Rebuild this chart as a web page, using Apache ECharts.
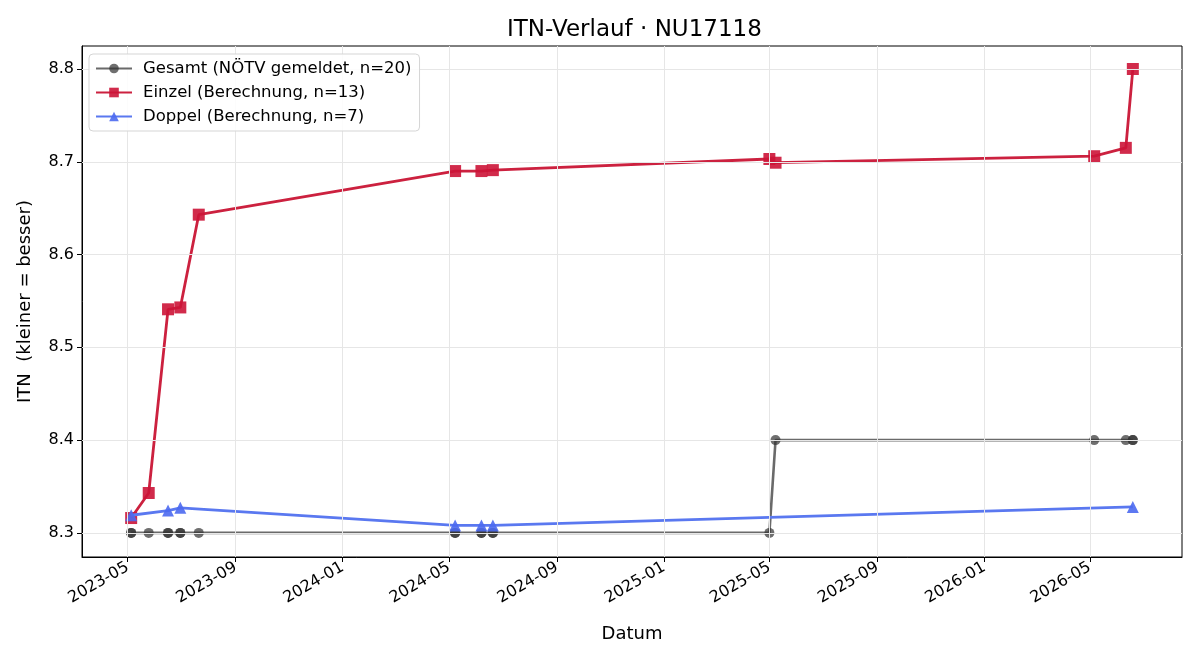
<!DOCTYPE html>
<html lang="de" style="height: 100%">
<head>
  <meta charset="utf-8" />
  <title>ITN-Verlauf</title>
</head>
<body style="height: 100%; margin: 0; background: #fff">
  <div id="container" style="width: 1200px; height: 660px"></div>

  <script src="https://cdn.jsdelivr.net/npm/echarts@6/dist/echarts.min.js"></script>

  <script>
    // Daten
    const gesamtDates = [
      '2023-05-05', '2023-05-05', '2023-05-25', '2023-06-16', '2023-06-16',
      '2023-06-30', '2023-06-30', '2023-07-21', '2024-05-08', '2024-05-08',
      '2024-06-07', '2024-06-07', '2024-06-20', '2024-06-20', '2025-05-01',
      '2025-05-08', '2026-05-06', '2026-06-11', '2026-06-19', '2026-06-19'
    ];
    const gesamtValues = [
      8.3, 8.3, 8.3, 8.3, 8.3, 8.3, 8.3, 8.3, 8.3, 8.3,
      8.3, 8.3, 8.3, 8.3, 8.3, 8.4, 8.4, 8.4, 8.4, 8.4
    ];

    const einzelDates = [
      '2023-05-05', '2023-05-25', '2023-06-16', '2023-06-30', '2023-07-21',
      '2024-05-08', '2024-06-07', '2024-06-20', '2025-05-01', '2025-05-08',
      '2026-05-06', '2026-06-11', '2026-06-19'
    ];
    const einzelValues = [
      8.316, 8.343, 8.541, 8.543, 8.643,
      8.690, 8.690, 8.691, 8.703, 8.699,
      8.706, 8.715, 8.800
    ];

    const doppelDates = [
      '2023-05-05', '2023-06-16', '2023-06-30',
      '2024-05-08', '2024-06-07', '2024-06-20', '2026-06-19'
    ];
    const doppelValues = [8.319, 8.324, 8.327, 8.308, 8.308, 8.308, 8.328];

    const yTicks = [8.3, 8.4, 8.5, 8.6, 8.7, 8.8];
    const xTickLabels = [
      '2023-05', '2023-09', '2024-01', '2024-05', '2024-09',
      '2025-01', '2025-05', '2025-09', '2026-01', '2026-05'
    ];

    function toTime(s) {
      const p = s.split('-').map(Number);
      return Date.UTC(p[0], p[1] - 1, p[2] || 1);
    }
    function zip(dates, values) {
      const out = [];
      for (let i = 0; i < dates.length; i++) {
        out.push([toTime(dates[i]), values[i]]);
      }
      return out;
    }
    function fmtMonth(t) {
      const d = new Date(t);
      const m = d.getUTCMonth() + 1;
      return d.getUTCFullYear() + '-' + (m < 10 ? '0' + m : m);
    }

    const xTicks = xTickLabels.map(toTime);
    const font = 'DejaVu Sans';
    const gridColor = '#e6e6e6';

    // Gitterlinien als markLine
    const gridLines = [];
    for (const t of xTicks) gridLines.push({ xAxis: t });
    for (const v of yTicks) gridLines.push({ yAxis: v });

    var dom = document.getElementById('container');
    var myChart = echarts.init(dom, null, { renderer: 'canvas' });

    var option = {
      animation: false,
      backgroundColor: '#fff',
      textStyle: { fontFamily: font },
      title: {
        text: 'ITN-Verlauf · NU17118',
        left: 502,
        top: 14,
        textStyle: { fontFamily: font, fontSize: 23, fontWeight: 'normal', color: '#000' }
      },
      legend: {
        orient: 'vertical',
        left: 89,
        top: 54,
        z: 20,
        padding: [6, 8, 6, 6],
        itemWidth: 36,
        itemHeight: 12,
        itemGap: 7,
        backgroundColor: 'rgba(255,255,255,0.85)',
        borderColor: '#d5d5d5',
        borderWidth: 1,
        borderRadius: 4,
        textStyle: { fontFamily: font, fontSize: 16.5, color: '#000', padding: [0, 0, 0, 6] },
        data: [
          'Gesamt (NÖTV gemeldet, n=20)',
          'Einzel (Berechnung, n=13)',
          'Doppel (Berechnung, n=7)'
        ]
      },
      grid: {
        left: 82,
        right: 18,
        top: 46,
        bottom: 103,
        show: true,
        borderColor: '#000',
        borderWidth: 1,
        backgroundColor: 'transparent'
      },
      xAxis: {
        type: 'value',
        min: toTime('2023-03-10'),
        max: toTime('2026-08-14'),
        name: 'Datum',
        nameLocation: 'middle',
        nameGap: 68,
        nameTextStyle: { fontFamily: font, fontSize: 18, color: '#000' },
        axisLine: { show: true, lineStyle: { color: '#000', width: 1 } },
        axisTick: { show: true, length: 5, lineStyle: { color: '#000' }, customValues: xTicks },
        splitLine: { show: false },
        axisLabel: {
          customValues: xTicks,
          rotate: 30,
          margin: 9,
          fontFamily: font,
          fontSize: 16,
          color: '#000',
          formatter: fmtMonth
        }
      },
      yAxis: {
        type: 'value',
        min: 8.274,
        max: 8.8248,
        name: 'ITN  (kleiner = besser)',
        nameLocation: 'middle',
        nameGap: 48,
        nameRotate: 90,
        nameTextStyle: { fontFamily: font, fontSize: 18, color: '#000' },
        axisLine: { show: true, lineStyle: { color: '#000', width: 1 } },
        axisTick: { show: true, length: 5, lineStyle: { color: '#000' }, customValues: yTicks },
        splitLine: { show: false },
        axisLabel: {
          customValues: yTicks,
          margin: 8,
          fontFamily: font,
          fontSize: 16,
          color: '#000',
          formatter: function (v) { return v.toFixed(1); }
        }
      },
      series: [
        {
          name: '_grid',
          type: 'line',
          data: [],
          z: 0,
          silent: true,
          markLine: {
            silent: true,
            symbol: 'none',
            label: { show: false },
            lineStyle: { color: gridColor, type: 'solid', width: 1 },
            data: gridLines,
            animation: false
          }
        },
        {
          name: 'Gesamt (NÖTV gemeldet, n=20)',
          type: 'line',
          data: zip(gesamtDates, gesamtValues),
          z: 2,
          symbol: 'circle',
          symbolSize: 10,
          showAllSymbol: true,
          color: '#666666',
          lineStyle: { color: '#6a6a6a', width: 2.6 },
          itemStyle: { color: 'rgba(50,50,50,0.7)' }
        },
        {
          name: 'Einzel (Berechnung, n=13)',
          type: 'line',
          data: zip(einzelDates, einzelValues),
          z: 3,
          symbol: 'rect',
          symbolSize: 12,
          showAllSymbol: true,
          color: '#cc1f3f',
          lineStyle: { color: '#cc213f', width: 2.8 },
          itemStyle: { color: 'rgba(204,20,55,0.9)' }
        },
        {
          name: 'Doppel (Berechnung, n=7)',
          type: 'line',
          data: zip(doppelDates, doppelValues),
          z: 4,
          symbol: 'triangle',
          symbolSize: 12,
          showAllSymbol: true,
          color: '#5573f0',
          lineStyle: { color: '#5a78f0', width: 2.8 },
          itemStyle: { color: 'rgba(75,105,240,0.9)' }
        }
      ]
    };

    myChart.setOption(option);

    window.onresize = function () {
      myChart.resize();
    };
  </script>
</body>
</html>
